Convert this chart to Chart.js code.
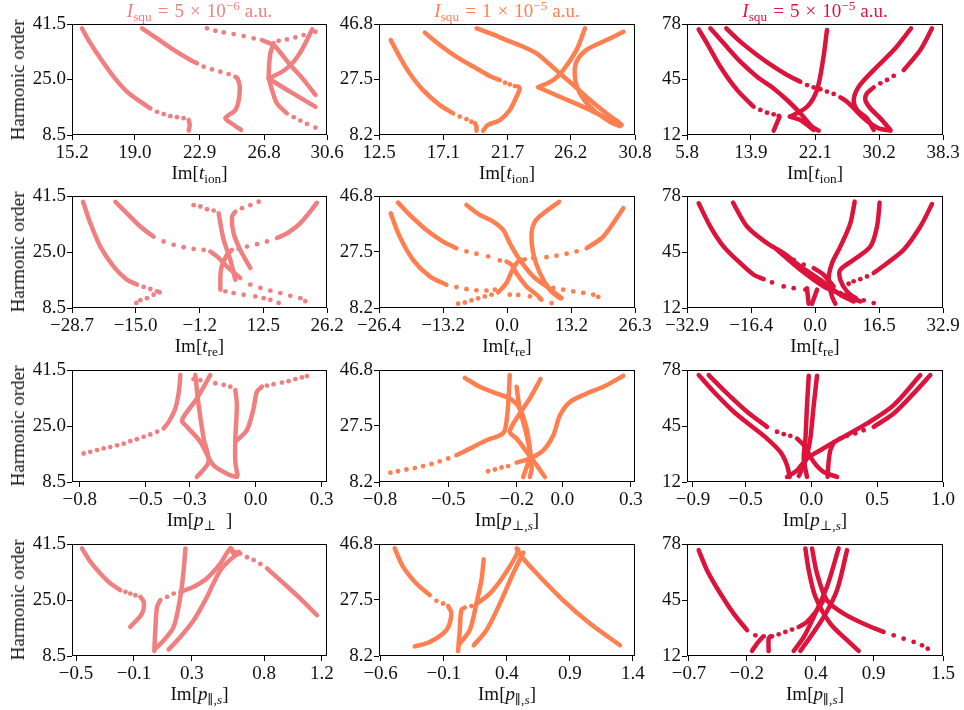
<!DOCTYPE html>
<html>
<head>
<meta charset="utf-8">
<title>Harmonic order vs imaginary parts</title>
<script src="https://cdn.jsdelivr.net/npm/chart.js@4.4.1/dist/chart.umd.min.js"></script>
<style>
body { margin: 0; background: #fff; }
#fig { position: relative; width: 964px; height: 710px; overflow: hidden; font-family: "Liberation Serif", "DejaVu Serif", serif; color: #111; }
#fig canvas { position: absolute; }
.lbl { position: absolute; font-size: 19px; line-height: 22px; white-space: nowrap; text-align: center; }
.lbl sub { font-size: 0.7em; vertical-align: -0.3em; line-height: 0; }
.lbl sup { font-size: 0.7em; vertical-align: 0.55em; line-height: 0; }
.lbl .rel { margin: 0 0.32em; }
</style>
</head>
<body>
<div id="fig"></div>
<script>
// Intensities (columns)
var intensityTitles = [
    '<i>I</i><sub>squ</sub><span class="rel">=</span>5<span class="rel">&times;</span>10<sup>&minus;6</sup>&nbsp;a.u.',
    '<i>I</i><sub>squ</sub><span class="rel">=</span>1<span class="rel">&times;</span>10<sup>&minus;5</sup>&nbsp;a.u.',
    '<i>I</i><sub>squ</sub><span class="rel">=</span>5<span class="rel">&times;</span>10<sup>&minus;5</sup>&nbsp;a.u.'
];
var intensityColors = ['#f08080', '#ff7f50', '#dc143c'];

// Harmonic order ticks per intensity
var yTicksA = ['8.5', '25.0', '41.5'];
var yTicksB = ['8.2', '27.5', '46.8'];
var yTicksC = ['12', '45', '78'];

// ---- Im[t_ion] ----
var tionA_xticks = ['15.2', '19.0', '22.9', '26.8', '30.6'];
var tionA_xrange = [15.2, 30.6];
var tionA_lines = [
    [[15.80,40.2],[16.31,35.8],[16.91,31.3],[17.72,25.8],[18.52,21.4],[19.33,18.4],[19.93,16.4]],
    [[22.25,13.0],[22.31,11.5],[22.25,9.8]],
    [[19.43,40.2],[20.33,37.2],[21.34,33.8],[22.35,30.8],[22.75,29.8]],
    [[25.06,25.8],[25.2,25.3],[25.33,22.9],[25.27,18.9],[25.06,15.9],[24.46,13.5],[24.76,12.2],[25.41,10.0]],
    [[26.67,36.7],[27.08,35.9],[27.38,35.3],[28.39,29.3],[29.19,24.9],[29.9,20.4]],
    [[27.38,35.8],[27.18,32.8],[27.1,28.8],[27.08,25.3]],
    [[27.08,25.3],[27.98,27.6],[28.59,30.3],[29.19,34.8],[29.7,39.9]],
    [[27.08,25.3],[28.39,21.3],[29.9,16.9]],
    [[27.1,25.0],[27.28,21.9],[27.58,17.9],[28.18,14.9]]
];
var tionA_dots = [
    [20.33,15.4],[20.74,14.7],[21.14,14.1],[21.54,13.8],[21.94,13.5],
    [23.15,28.8],[23.65,28.0],[24.16,27.3],[24.66,26.6],
    [23.35,40.2],[23.86,39.5],[24.36,39.0],[24.96,38.5],[25.57,37.9],[26.17,37.2],
    [27.68,36.5],[28.18,36.9],[28.69,37.5],[29.19,38.2],[29.9,39.2],
    [28.59,13.8],[28.99,12.8],[29.39,11.8],[29.9,10.7]
];

var tionB_xticks = ['12.5', '17.1', '21.7', '26.2', '30.8'];
var tionB_xrange = [12.5, 30.8];
var tionB_lines = [
    [[13.34,41.2],[13.98,35.4],[14.7,29.6],[15.65,23.8],[16.84,18.6],[17.8,15.7]],
    [[19.35,12.3],[19.47,11.1],[19.47,9.7]],
    [[15.77,43.8],[16.84,39.5],[18.04,35.4],[19.23,32.0],[20.42,28.7],[21.14,27.3]],
    [[19.94,9.7],[20.3,11.7],[21.14,13.4],[21.85,16.9],[22.33,21.5],[22.57,24.4],[22.45,25.0]],
    [[19.47,45.3],[20.42,43.6],[21.61,41.2],[22.81,38.9],[23.76,36.6],[24.48,33.7],[25.43,29.6],[26.39,25.6],[27.58,20.4],[28.77,15.7],[29.73,12.3]],
    [[23.88,24.8],[24.95,27.3],[25.67,30.8],[26.62,37.8],[27.22,45.3]],
    [[23.88,24.8],[25.67,21.0],[27.58,16.9],[29.49,12.3],[29.85,11.7]],
    [[29.97,44.1],[28.77,41.2],[27.34,37.8],[26.62,33.7],[26.5,28.5],[26.86,22.7],[27.82,16.9],[29.01,12.8],[29.73,11.3]]
];
var tionB_dots = [
    [18.27,14.6],[18.75,13.7],[19.11,12.8],
    [21.5,26.4],[21.85,25.8],[22.21,25.2]
];

var tionC_xticks = ['5.8', '13.9', '22.1', '30.2', '38.3'];
var tionC_xrange = [5.8, 38.3];
var tionC_lines = [
    [[7.28,74.8],[8.34,66.5],[10.03,52.6],[12.15,38.8],[14.26,28.8]],
    [[17.56,22.9],[16.8,14.6]],
    [[8.76,75.4],[10.46,66.5],[12.57,55.6],[14.69,46.7],[16.8,39.7],[18.5,32.8],[20.19,24.9],[21.67,17.0],[22.52,14.6]],
    [[18.84,22.9],[20.19,20.9],[21.88,15.0]],
    [[10.79,75.4],[12.57,67.5],[14.69,59.6],[16.8,52.6],[18.5,47.7],[20.19,43.7]],
    [[25.27,34.4],[26.11,31.8],[26.96,27.9],[27.8,23.9],[29.07,18.9],[30.13,16.0],[31.62,14.6]],
    [[18.92,22.9],[21.04,28.8],[22.3,38.8],[23.07,56.6],[23.57,74.4]],
    [[34.24,75.4],[32.04,62.5],[29.5,50.6],[27.6,40.7],[26.96,32.8],[27.38,26.9],[28.65,21.9],[29.5,15.0]],
    [[36.9,75.4],[35.42,62.5],[33.31,50.6]],
    [[29.5,40.3],[28.65,36.8],[28.44,32.8],[29.07,27.9],[30.35,21.9],[31.62,15.0]]
];
var tionC_dots = [
    [15.11,26.9],[15.96,25.3],[16.8,24.3],[17.44,23.3],
    [21.04,41.7],[21.88,40.3],[22.73,39.2],[23.57,37.8],[24.42,36.4],
    [32.04,47.1],[31.19,44.7],[30.35,42.7]
];

// ---- Im[t_re] ----
var treA_xticks = ['-28.7', '-15.0', '-1.2', '12.5', '26.2'];
var treA_xrange = [-28.7, 26.2];
var treA_lines = [
    [[-26.33,39.8],[-24.75,33.5],[-22.6,26.6],[-19.73,20.7],[-16.86,16.8],[-14.71,15.4]],
    [[-19.37,39.8],[-16.86,36.4],[-13.99,32.5],[-11.12,29.5]],
    [[1.08,25.1],[2.52,23.7],[4.67,20.7],[7.54,17.3]],
    [[2.88,36.4],[3.24,33.5],[3.95,28.6],[5.39,22.7],[6.46,16.8]],
    [[6.46,36.9],[5.74,35.4],[6.1,30.5],[7.54,25.6],[9.69,20.3]],
    [[3.24,13.9],[3.38,19.8],[4.67,24.2],[5.74,25.6]],
    [[15.43,29.1],[17.59,30.5],[20.46,33.5],[24.04,39.5]]
];
var treA_dots = [
    [-13.27,14.7],[-11.84,14.1],[-10.4,13.4],[-9.83,13.1],[-11.12,12.4],[-12.56,11.4],[-13.99,10.8],[-14.85,10.0],
    [-8.97,28.1],[-6.81,27.1],[-4.66,26.4],[-2.51,25.9],[-0.36,25.6],
    [9.69,15.4],[11.85,14.4],[14.0,13.6],[16.15,12.9],[18.3,12.1],[20.46,11.4],[21.53,10.5],
    [-2.51,38.8],[-1.07,38.4],[0.36,37.6],[1.8,37.2],
    [11.49,39.8],[9.69,38.8],[7.9,37.9],
    [7.18,25.9],[8.97,26.6],[11.13,27.3],[13.28,28.1],
    [4.31,13.4],[6.1,12.9],[8.26,12.4],[10.77,11.9],[12.56,11.4],[14.0,10.9],[15.79,10.0]
];

var treB_xticks = ['-26.4', '-13.2', '0.0', '13.2', '26.3'];
var treB_xrange = [-26.4, 26.3];
var treB_lines = [
    [[-23.99,40.8],[-22.14,32.8],[-19.39,24.8],[-15.96,19.1],[-12.52,16.2]],
    [[-1.87,13.6],[-0.15,16.8],[1.08,21.4],[2.25,24.2],[3.63,25.0]],
    [[16.34,28.8],[19.77,32.8],[23.9,42.6]],
    [[-22.48,44.5],[-20.08,40.3],[-16.64,35.1],[-13.21,31.1],[-10.46,28.8]],
    [[-0.15,24.2],[0.88,23.1],[1.91,20.2],[3.97,15.6],[6.03,12.8],[7.06,11.1]],
    [[-8.4,43.7],[-5.65,40.3],[-2.9,38.0],[-0.84,35.1],[0.53,30.5],[2.6,24.8],[5.34,19.1],[8.09,15.6],[11.18,11.6]],
    [[10.7,44.8],[7.41,40.8],[5.69,38.0],[5.0,34.0],[5.34,27.1],[6.72,20.2],[8.78,14.5],[10.84,11.6]]
];
var treB_dots = [
    [-10.46,15.4],[-8.4,14.7],[-6.34,14.3],[-4.28,14.2],[-2.56,14.5],
    [-10.11,9.7],[-8.74,10.1],[-7.37,10.8],[-5.99,11.5],[-4.62,12.2],[-3.24,12.8],
    [5.34,25.4],[8.09,25.7],[10.15,26.2],[12.22,26.9],[14.28,27.7],
    [-8.4,27.7],[-6.34,26.9],[-3.93,26.0],[-1.53,24.6],
    [9.47,15.1],[11.53,14.5],[13.59,13.9],[15.65,13.4],[17.71,12.8],[18.74,12.0],
    [0.53,12.8],[2.25,12.7],[4.66,12.2],[6.72,11.5],[9.12,9.9]
];

var treC_xticks = ['-32.9', '-16.4', '0.0', '16.5', '32.9'];
var treC_xrange = [-32.9, 32.9];
var treC_lines = [
    [[-29.9,73.7],[-26.9,60.0],[-23.48,48.2],[-19.19,38.4],[-15.76,31.6],[-13.19,29.0]],
    [[-21.08,74.1],[-17.48,60.0],[-12.34,50.2],[-8.05,44.3],[-3.77,36.5],[1.37,28.6],[6.51,19.8],[9.94,15.9]],
    [[-9.77,46.3],[-3.77,34.5],[2.23,24.7],[8.22,18.9],[11.65,15.9]],
    [[-0.34,35.5],[2.23,31.6],[4.8,24.7]],
    [[-2.06,23.7],[-1.63,14.5]],
    [[0.52,22.8],[-0.77,14.5]],
    [[10.2,74.7],[9.08,61.9],[6.51,48.2],[4.37,38.4],[3.51,28.6],[4.37,18.9],[5.23,14.5]],
    [[16.62,74.1],[15.94,60.0],[14.23,48.2],[9.94,40.4],[6.51,34.5],[6.51,28.6],[8.22,21.8],[10.8,16.9]],
    [[30.07,73.3],[27.08,60.0],[22.79,46.3],[18.51,38.4],[15.08,32.6]]
];
var treC_dots = [
    [-11.05,27.1],[-8.05,24.7],[-5.48,23.7],[-2.48,22.8],
    [-5.48,40.4],[-2.91,37.5],
    [6.51,20.8],[8.22,19.8],[10.37,17.9],[12.51,16.5],[15.08,14.9],
    [13.37,30.6],[11.65,29.0],[9.94,27.7],[8.65,26.3]
];

// ---- Im[p_perp] ----
var pperpA_xticks = ['-0.8', '-0.5', '-0.3', '0.0', '0.3'];
var pperpA_xrange = [-0.835, 0.325];
var pperpA_lines = [
    [[-0.418,24.3],[-0.395,26.2],[-0.365,30.2],[-0.349,35.1],[-0.342,40.0]],
    [[-0.206,40.0],[-0.267,33.1],[-0.335,26.7],[-0.312,24.8],[-0.251,20.3],[-0.191,13.4],[-0.115,10.5],[-0.085,10.0]],
    [[-0.274,40.0],[-0.259,31.2],[-0.236,21.3],[-0.214,14.4],[-0.267,10.0]],
    [[-0.092,35.6],[-0.085,31.2],[-0.092,21.3],[-0.092,14.4],[-0.082,10.5]],
    [[-0.085,20.8],[-0.039,23.8],[-0.009,30.2],[0.006,35.1],[0.029,36.6]]
];
var pperpA_dots = [
    [-0.782,16.9],[-0.752,17.4],[-0.721,17.9],[-0.691,18.4],[-0.661,18.8],[-0.63,19.3],[-0.6,19.8],
    [-0.57,20.5],[-0.54,21.1],[-0.509,21.8],[-0.479,22.5],[-0.448,23.3],
    [-0.282,38.8],[-0.251,38.5],[-0.183,37.6],[-0.145,37.1],[-0.115,36.6],
    [0.052,36.9],[0.082,37.3],[0.12,37.8],[0.15,38.2],[0.181,38.8],[0.211,39.3],[0.234,39.7]
];

var pperpB_xticks = ['-0.8', '-0.5', '-0.2', '0.0', '0.3'];
var pperpB_xrange = [-0.804, 0.318];
var pperpB_lines = [
    [[-0.465,17.4],[-0.406,19.7],[-0.333,22.6],[-0.274,24.3],[-0.252,26.1],[-0.238,34.7],[-0.231,45.1]],
    [[-0.428,44.1],[-0.362,41.0],[-0.289,38.7],[-0.231,37.0],[-0.187,33.5],[-0.157,26.6],[-0.143,19.7],[-0.135,12.8],[-0.143,9.9]],
    [[-0.096,43.7],[-0.143,37.0],[-0.187,31.8],[-0.231,25.5],[-0.201,23.2],[-0.157,18.6],[-0.113,14.0],[-0.077,9.9]],
    [[-0.201,41.0],[-0.187,33.5],[-0.157,24.3],[-0.143,17.4],[-0.172,9.9]],
    [[-0.201,14.9],[-0.143,16.3],[-0.084,19.1],[-0.04,24.3],[-0.011,31.2],[0.033,35.8],[0.106,38.7],[0.179,41.0],[0.267,44.8]]
];
var pperpB_dots = [
    [-0.754,11.4],[-0.721,11.9],[-0.684,12.5],[-0.647,13.0],[-0.611,13.7],[-0.574,14.4],[-0.538,15.3],[-0.501,16.3],
    [-0.326,11.9],[-0.296,12.5],[-0.267,13.2],[-0.238,13.7]
];

var pperpC_xticks = ['-0.9', '-0.5', '0.0', '0.5', '1.0'];
var pperpC_xrange = [-0.945, 1.0];
var pperpC_lines = [
    [[-0.856,75.0],[-0.742,65.2],[-0.59,53.4],[-0.464,45.5],[-0.337,37.6],[-0.236,29.7],[-0.185,21.9],[-0.165,15.0]],
    [[-0.78,75.0],[-0.641,64.2],[-0.489,53.4],[-0.337,44.5]],
    [[-0.109,37.6],[-0.058,33.7],[0.018,23.8],[0.094,17.9],[0.195,15.0]],
    [[-0.185,15.0],[-0.109,18.9],[-0.033,25.8],[0.068,30.7],[0.22,37.6],[0.423,46.5],[0.625,57.3],[0.828,75.0]],
    [[0.904,75.0],[0.777,64.2],[0.625,52.4],[0.473,44.5]],
    [[0.169,35.2],[0.144,30.7],[0.131,23.8],[0.123,15.0]],
    [[-0.02,74.6],[-0.033,57.3],[-0.045,37.6],[-0.058,25.8],[-0.033,15.0]],
    [[0.043,74.6],[0.018,57.3],[-0.008,37.6],[-0.033,27.8],[-0.058,21.9],[-0.096,15.5]]
];
var pperpC_dots = [
    [-0.261,41.6],[-0.21,40.2],[-0.16,39.2],
    [0.397,42.5],[0.334,40.6],[0.271,39.2],[0.22,37.6]
];

// ---- Im[p_par] ----
var pparA_xticks = ['-0.5', '-0.1', '0.3', '0.8', '1.2'];
var pparA_xrange = [-0.528, 1.235];
var pparA_lines = [
    [[-0.459,40.2],[-0.401,36.3],[-0.332,32.8],[-0.263,29.9],[-0.194,27.9]],
    [[-0.055,25.9],[-0.032,24.5],[-0.044,21.0],[-0.125,17.1]],
    [[0.041,10.0],[0.048,16.1],[0.06,23.0],[0.083,25.0]],
    [[0.221,27.4],[0.313,28.9],[0.405,31.4],[0.498,35.8],[0.567,40.2],[0.59,39.2],[0.636,38.7]],
    [[0.82,34.3],[0.936,29.9],[1.051,25.4],[1.166,20.5]],
    [[0.048,10.7],[0.106,13.1],[0.175,17.1],[0.221,25.9],[0.244,33.8],[0.256,40.2]],
    [[0.14,10.4],[0.221,14.1],[0.313,19.0],[0.405,25.9],[0.498,33.8],[0.59,37.8],[0.625,38.7]],
    [[0.567,40.2],[0.59,38.7],[0.625,39.2]]
];
var pparA_dots = [
    [-0.159,27.4],[-0.125,26.9],[-0.09,26.4],
    [0.129,25.9],[0.175,26.9],
    [0.682,37.6],[0.728,36.8],[0.774,35.6]
];

var pparB_xticks = ['-0.6', '-0.1', '0.4', '0.9', '1.4'];
var pparB_xrange = [-0.613, 1.416];
var pparB_lines = [
    [[-0.489,45.3],[-0.423,39.0],[-0.317,33.2],[-0.211,29.2]],
    [[-0.065,25.4],[-0.039,22.8],[-0.079,17.1],[-0.211,13.0],[-0.33,11.5]],
    [[0.014,9.9],[0.027,17.1],[0.04,24.0],[0.067,24.9]],
    [[0.159,26.1],[0.265,29.7],[0.371,35.5],[0.477,43.0],[0.49,44.9]],
    [[0.027,12.5],[0.106,17.1],[0.159,26.3],[0.199,34.4],[0.217,41.5]],
    [[0.138,11.9],[0.239,17.1],[0.345,26.3],[0.451,36.7],[0.53,43.8]],
    [[0.477,45.3],[0.53,41.8],[0.636,36.7],[0.847,27.4],[1.059,19.4],[1.297,11.9]]
];
var pparB_dots = [
    [-0.158,27.2],[-0.105,26.3],
    [0.12,25.4]
];

var pparC_xticks = ['-0.7', '-0.2', '0.4', '0.9', '1.5'];
var pparC_xrange = [-0.717, 1.5];
var pparC_lines = [
    [[-0.616,74.4],[-0.544,62.6],[-0.428,48.8],[-0.313,37.0],[-0.197,27.2]],
    [[0.25,29.1],[0.322,32.1],[0.409,39.0],[0.467,45.0]],
    [[-0.154,15.0],[-0.111,19.3],[-0.067,22.8]],
    [[-0.01,15.0],[-0.01,22.2],[0.005,23.6]],
    [[0.308,75.4],[0.337,62.6],[0.395,46.9],[0.524,31.1],[0.669,21.3],[0.77,15.0]],
    [[0.366,75.4],[0.409,60.6],[0.495,44.9],[0.64,37.0],[0.842,30.1],[0.986,26.2]],
    [[0.207,15.0],[0.294,23.2],[0.38,35.0],[0.495,52.8],[0.596,75.4]],
    [[0.265,15.0],[0.351,23.2],[0.467,35.0],[0.582,50.8],[0.669,74.4]]
];
var pparC_dots = [
    [-0.125,24.2],[-0.053,23.6],[0.019,23.6],[0.077,24.8],[0.135,26.2],[0.193,27.6],
    [1.073,24.2],[1.159,22.2],[1.246,20.3],[1.318,18.3],[1.368,16.3]
];

var xTitles = [
    ['Im[<i>t</i><sub>ion</sub>]', 'Im[<i>t</i><sub>ion</sub>]', 'Im[<i>t</i><sub>ion</sub>]'],
    ['Im[<i>t</i><sub>re</sub>]', 'Im[<i>t</i><sub>re</sub>]', 'Im[<i>t</i><sub>re</sub>]'],
    ['Im[<i>p</i><sub>&perp;&nbsp;&nbsp;&nbsp;</sub>]', 'Im[<i>p</i><sub>&perp;,<i>s</i></sub>]', 'Im[<i>p</i><sub>&perp;,<i>s</i></sub>]'],
    ['Im[<i>p</i><sub>&#8741;,<i>s</i></sub>]', 'Im[<i>p</i><sub>&#8741;,<i>s</i></sub>]', 'Im[<i>p</i><sub>&#8741;,<i>s</i></sub>]']
];

var panels = [
    [tionA_lines, tionA_dots, tionA_xticks, tionA_xrange],
    [tionB_lines, tionB_dots, tionB_xticks, tionB_xrange],
    [tionC_lines, tionC_dots, tionC_xticks, tionC_xrange],
    [treA_lines, treA_dots, treA_xticks, treA_xrange],
    [treB_lines, treB_dots, treB_xticks, treB_xrange],
    [treC_lines, treC_dots, treC_xticks, treC_xrange],
    [pperpA_lines, pperpA_dots, pperpA_xticks, pperpA_xrange],
    [pperpB_lines, pperpB_dots, pperpB_xticks, pperpB_xrange],
    [pperpC_lines, pperpC_dots, pperpC_xticks, pperpC_xrange],
    [pparA_lines, pparA_dots, pparA_xticks, pparA_xrange],
    [pparB_lines, pparB_dots, pparB_xticks, pparB_xrange],
    [pparC_lines, pparC_dots, pparC_xticks, pparC_xrange]
];
var yTicksByCol = [yTicksA, yTicksB, yTicksC];

// grid geometry (plot areas)
var colLeft = [72, 379, 687];
var colWidth = [255, 256, 256];
var rowTop = [24, 196, 370, 544];
var rowHeight = [111, 112, 112, 112];
var padL = 62, padR = 30, padT = 14, padB = 44;

var fontFamily = '"Liberation Serif", "DejaVu Serif", serif';
var fig = document.getElementById('fig');

function minus(s) { return s.replace('-', '\u2212'); }

function addLabel(html, style) {
    var d = document.createElement('div');
    d.className = 'lbl';
    d.innerHTML = html;
    for (var k in style) d.style[k] = style[k];
    fig.appendChild(d);
    return d;
}

// full box around each plot area, drawn over the markers
var frame = {
    id: 'frame',
    afterDatasetsDraw: function (chart) {
        var a = chart.chartArea, c = chart.ctx;
        c.save();
        c.strokeStyle = '#000';
        c.lineWidth = 1;
        c.strokeRect(Math.round(a.left) + 0.5, Math.round(a.top) + 0.5,
            Math.round(a.right - a.left) - 1, Math.round(a.bottom - a.top) - 1);
        c.restore();
    }
};

function axis(labels, range, isX) {
    var vals = labels.map(parseFloat);
    return {
        type: 'linear',
        min: range[0],
        max: range[1],
        afterBuildTicks: function (s) { s.ticks = vals.map(function (v) { return { value: v }; }); },
        afterFit: function (s) { if (isX) s.height = padB; else s.width = padL; },
        ticks: {
            autoSkip: false,
            maxRotation: 0,
            padding: isX ? 2 : 1,
            color: '#111',
            font: { family: fontFamily, size: 19, lineHeight: 1.2 },
            callback: function (v, i) { return minus(labels[i]); }
        },
        grid: { display: true, drawOnChartArea: false, drawTicks: true, tickLength: 5, tickColor: '#000', lineWidth: 1 },
        border: { display: false }
    };
}

panels.forEach(function (p, idx) {
    var row = Math.floor(idx / 3), col = idx % 3;
    var L = colLeft[col], T = rowTop[row], W = colWidth[col], H = rowHeight[row];
    var color = intensityColors[col];

    var cv = document.createElement('canvas');
    cv.width = W + padL + padR;
    cv.height = H + padT + padB;
    cv.style.left = (L - padL) + 'px';
    cv.style.top = (T - padT) + 'px';
    fig.appendChild(cv);

    var datasets = p[0].map(function (pts) {
        return {
            data: pts.map(function (q) { return { x: q[0], y: q[1] }; }),
            showLine: true,
            borderColor: color,
            borderWidth: 4.5,
            borderCapStyle: 'round',
            borderJoinStyle: 'round',
            tension: 0.3,
            pointRadius: 0,
            fill: false
        };
    });
    datasets.push({
        data: p[1].map(function (q) { return { x: q[0], y: q[1] }; }),
        showLine: false,
        pointRadius: 2.4,
        pointBorderWidth: 0,
        backgroundColor: color,
        borderColor: color
    });

    new Chart(cv.getContext('2d'), {
        type: 'scatter',
        data: { datasets: datasets },
        options: {
            responsive: false,
            animation: false,
            devicePixelRatio: 1,
            events: [],
            layout: { padding: { left: 0, right: padR, top: padT, bottom: 0 } },
            plugins: { legend: { display: false }, tooltip: { enabled: false } },
            scales: {
                x: axis(p[2], p[3], true),
                y: axis(yTicksByCol[col], [parseFloat(yTicksByCol[col][0]), parseFloat(yTicksByCol[col][2])], false)
            }
        },
        plugins: [frame]
    });

    addLabel(xTitles[row][col], { left: L + 'px', width: W + 'px', top: (T + H + 27) + 'px' });
    if (col === 0) {
        addLabel('Harmonic order', {
            left: '18px', top: (T + H / 2) + 'px',
            transform: 'translate(-50%, -50%) rotate(-90deg)'
        });
    }
    if (row === 0) {
        addLabel(intensityTitles[col], { left: L + 'px', width: W + 'px', top: '0px', color: color });
    }
});
</script>
</body>
</html>
